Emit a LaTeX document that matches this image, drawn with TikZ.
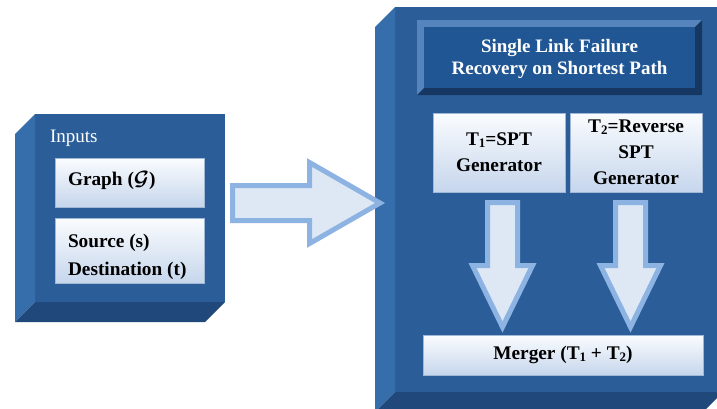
\documentclass[tikz,border=0pt]{standalone}
\usepackage{fontspec}
\setmainfont{Liberation Serif}
\usetikzlibrary{calc}

\definecolor{face}{RGB}{43,94,152}
\definecolor{sideface}{RGB}{54,110,172}
\definecolor{bottomface}{RGB}{33,72,122}
\definecolor{titleface}{RGB}{33,86,148}
\definecolor{bevellight}{RGB}{86,132,188}
\definecolor{beveldark}{RGB}{22,55,98}
\definecolor{boxtop}{RGB}{250,252,254}
\definecolor{boxbottom}{RGB}{198,214,236}
\definecolor{boxline}{RGB}{160,184,214}
\definecolor{arrowfill}{RGB}{222,232,245}
\definecolor{arrowline}{RGB}{141,179,226}

% small lowered index digit, as in T1
\newcommand\lowidx[1]{\raisebox{-1.5pt}{\fontsize{13}{13}\selectfont #1}}

\begin{document}
\begin{tikzpicture}[x=1pt,y=-1pt,
  every node/.style={inner sep=0pt, outer sep=0pt},
  front/.style={rectangle, fill=face, draw=none},
  litebox/.style={rectangle, top color=boxtop, bottom color=boxbottom, draw=boxline, line width=0.8pt},
  lbl/.style={font=\fontsize{19.3}{26}\selectfont\bfseries, text=black},
  blockarrow/.style={fill=arrowfill, draw=arrowline, line width=5pt, line join=miter},
  pics/downarrow/.style={code={
    \draw[blockarrow] (-15,0) -- (15,0) -- (15,63) -- (30,63) -- (0,124.5)
      -- (-30,63) -- (-15,63) -- cycle;}}
]
\useasboundingbox (0,0) rectangle (717,408);
\clip (0,0) rectangle (717,408);

% ---------- input block (bevelled cube) ----------
\node[front, minimum width=190pt, minimum height=188pt] (inputs) at (130,208) {};
\fill[sideface] (inputs.north west) -- (inputs.south west) -- ++(-20,20) -- ++(0,-188) -- cycle;
\fill[bottomface] (inputs.south west) -- (inputs.south east) -- ++(-20,20) -- ++(-190,0) -- cycle;
\node[anchor=base west, text=white, font=\fontsize{19}{22}\selectfont] (inlabel)
  at ($(inputs.north west)+(15,28)$) {Inputs};

\node[litebox, minimum width=149pt, minimum height=49pt] (graph) at (129.5,182.5) {};
\node[lbl, anchor=base west] (graphtxt) at ($(graph.west)+(13,3)$) {Graph ({\boldmath$\mathcal{G}$})};

\node[litebox, minimum width=149pt, minimum height=65pt] (srcdst) at (129.5,250.5) {};
\node[lbl, anchor=base west] (srctxt) at ($(srcdst.north west)+(13,29)$) {Source (s)};
\node[lbl, anchor=base west] (dsttxt) at ($(srcdst.north west)+(13,57)$) {Destination (t)};

% ---------- recovery block (bevelled cube) ----------
\node[front, minimum width=328pt, minimum height=385pt] (core) at (559,199.5) {};
\fill[sideface] (core.north west) -- (core.south west) -- ++(-20,20) -- ++(0,-385) -- cycle;
\fill[bottomface] (core.south west) -- (core.south east) -- ++(-20,20) -- ++(-328,0) -- cycle;

% title plate with bevel
\node[rectangle, fill=bevellight, minimum width=285pt, minimum height=75pt] (title) at (559.5,57.5) {};
\fill[beveldark] (title.north east) -- (title.south east) -- (title.south west)
  -- ++(7,-7) -- ($(title.north east)+(-7,7)$) -- cycle;
\fill[titleface] ($(title.north west)+(7,7)$) rectangle ($(title.south east)+(-7,-7)$);
\node[align=center, text=white, font=\fontsize{19}{22}\selectfont\bfseries] (titletxt)
  at ($(title.center)+(0,1)$) {Single Link Failure\\Recovery on Shortest Path};

% generators
\node[litebox, lbl, align=center, minimum width=132pt, minimum height=79pt] (tone)
  at (499,152.5) {T\lowidx{1}=SPT\\Generator};
\node[litebox, lbl, align=center, minimum width=132pt, minimum height=79pt] (ttwo)
  at (636,152.5) {T\lowidx{2}=Reverse\\SPT\\Generator};

% merger
\node[litebox, lbl, minimum width=280pt, minimum height=40pt] (merger)
  at (563,355) {Merger (T\lowidx{1} + T\lowidx{2})};

% ---------- block arrows ----------
\pic at ($(tone.south)+(3.5,10.5)$) {downarrow};
\pic at ($(ttwo.south)+(-5.5,10.5)$) {downarrow};

\draw[blockarrow] ($(inputs.east)+(7.5,-22.5)$) -- ++(77,0) -- ++(0,-23)
  -- ($(core.west)+(-15,3.5)$)
  -- ($(inputs.east)+(84.5,35.5)$) -- ++(0,-23) -- ++(-77,0) -- cycle;
\end{tikzpicture}
\end{document}
